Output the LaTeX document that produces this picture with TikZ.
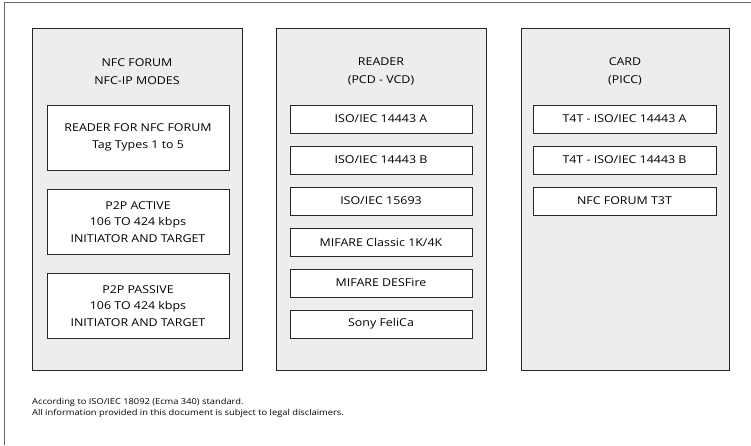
\documentclass[tikz,border=0pt]{standalone}
\usepackage{fontspec}
\setmainfont[FakeStretch=1.15]{Open Sans}
\usetikzlibrary{positioning}
\definecolor{panelgray}{RGB}{237,237,237}
\definecolor{framegray}{RGB}{100,100,100}
\tikzset{
  panel/.style={draw=black!85, line width=0.9pt, fill=panelgray, minimum width=210pt, minimum height=342pt, inner sep=0pt},
  title/.style={align=center, font=\fontsize{10.8}{18}\selectfont},
  entry/.style={draw=black!85, line width=0.8pt, fill=white, align=center, minimum width=182pt, minimum height=28pt, inner sep=0pt, font=\fontsize{10.8}{16.5}\selectfont},
  mode/.style={entry, minimum height=65pt},
  footnote/.style={align=left, font=\fontsize{8.1}{11}\selectfont, inner sep=0pt}
}

\begin{document}
\begin{tikzpicture}[x=1pt,y=-1pt]
    \useasboundingbox (0,0) rectangle (751,445);
    \draw[framegray, line width=0.8pt] (751,2) -- (4,2) -- (4,445);
    % the three columns
    \node[panel] (forum) at (137,199) {};
    \node[panel] (reader) at (381,199) {};
    \node[panel, minimum width=208pt] (card) at (625,199) {};
    \node[title] (forumtitle) at (137,71.5) {NFC FORUM\\NFC-IP MODES};
    \node[title] (readertitle) at (381,71.5) {READER\\(PCD - VCD)};
    \node[title] (cardtitle) at (625,71.5) {CARD\\(PICC)};
    % NFC-IP modes
    \node[mode] (mode1) at (138,137.5) {READER FOR NFC FORUM\\Tag Types 1 to 5};
    \node[mode, below=18.5pt of mode1] (mode2) {P2P ACTIVE\\106 TO 424 kbps\\INITIATOR AND TARGET};
    \node[mode, below=18.5pt of mode2] (mode3) {P2P PASSIVE\\106 TO 424 kbps\\INITIATOR AND TARGET};
    % reader and card technologies
    \foreach \lab [count=\i] in {ISO/IEC 14443 A,ISO/IEC 14443 B,ISO/IEC 15693,MIFARE Classic 1K/4K,MIFARE DESFire,Sony FeliCa}{
        \node[entry] (rdr\i) at (381,78+41*\i) {\lab};
    }
    \foreach \lab [count=\i] in {T4T - ISO/IEC 14443 A,T4T - ISO/IEC 14443 B,NFC FORUM T3T}{
        \node[entry, minimum width=183pt] (crd\i) at (624.5,78+41*\i) {\lab};
    }
    \node[footnote, anchor=north west] (note) at (32,398.5) {According to ISO/IEC 18092 (Ecma 340) standard.\\All information provided in this document is subject to legal disclaimers.};
\end{tikzpicture}
\end{document}
